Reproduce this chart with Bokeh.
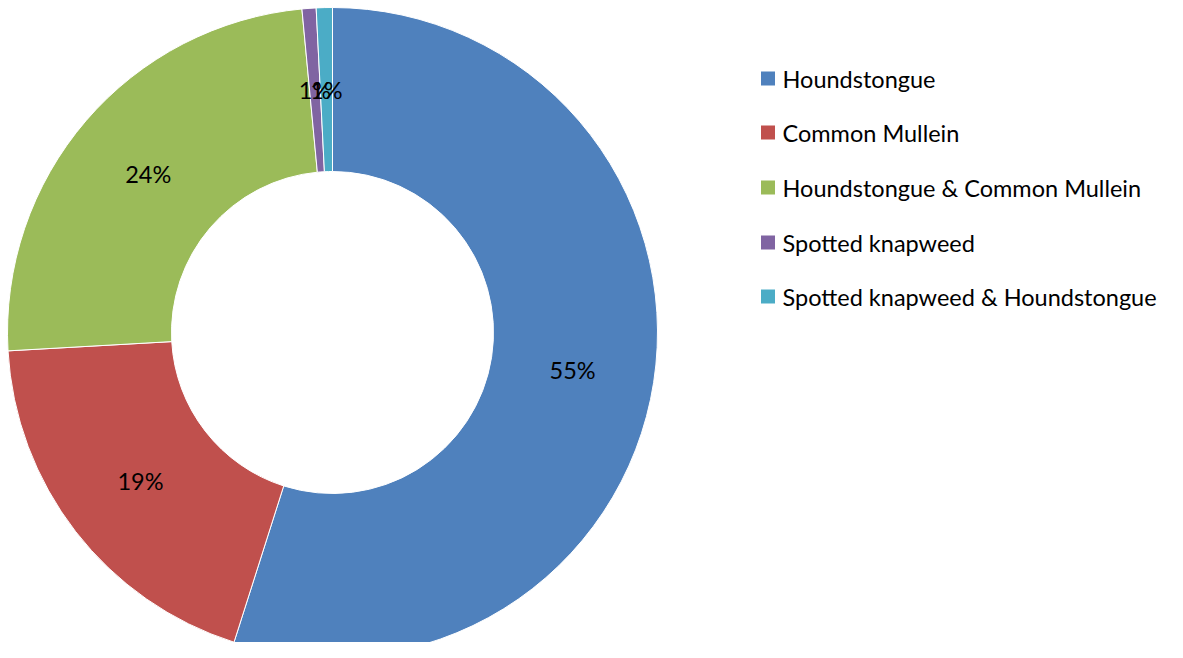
import math
from bokeh.plotting import figure
from bokeh.models import ColumnDataSource, Range1d
from bokeh.core.properties import value
from bokeh.embed import file_html
from bokeh.resources import INLINE

categories = ["Houndstongue", "Common Mullein", "Houndstongue & Common Mullein",
              "Spotted knapweed", "Spotted knapweed & Houndstongue"]
shares = [54.9, 19.2, 24.4, 0.7, 0.8]
colors = ["#4F81BD", "#C0504D", "#9BBB59", "#8064A2", "#4BACC6"]

W, H = 1167, 642
CX, CY = 332, 310
R_OUT, R_IN = 325, 161

total = sum(shares)
starts, ends, lx, ly, labels = [], [], [], [], []
cum = 0.0
for s in shares:
    a0 = math.pi / 2 - 2 * math.pi * (cum + s) / total
    a1 = math.pi / 2 - 2 * math.pi * cum / total
    starts.append(a0)
    ends.append(a1)
    mid = (a0 + a1) / 2
    rm = (R_OUT + R_IN) / 2
    lx.append(CX + rm * math.cos(mid))
    ly.append(CY + rm * math.sin(mid))
    labels.append(f"{round(s / total * 100)}%")
    cum += s

src = ColumnDataSource(dict(start=starts, end=ends, color=colors, lx=lx, ly=ly, label=labels))

p = figure(width=W, height=H, output_backend="svg", toolbar_location=None,
           x_range=Range1d(0, W), y_range=Range1d(0, H), min_border=0)
p.axis.visible = False
p.grid.visible = False
p.outline_line_color = None
p.background_fill_color = "white"

p.annular_wedge(x=CX, y=CY, inner_radius=R_IN, outer_radius=R_OUT,
                start_angle="start", end_angle="end", fill_color="color",
                line_color="white", line_width=1, source=src)

p.text(x="lx", y="ly", text="label", source=src, text_align="center",
       text_baseline="middle", text_font=value("Lato"), text_font_size="23.5px",
       text_color="#000000")

# legend
leg_y = [H - yy for yy in [78, 132, 187, 242, 296]]
leg_src = ColumnDataSource(dict(y=leg_y, name=categories, color=colors))
p.rect(x=767.5, y="y", width=14, height=14, fill_color="color", line_color=None, source=leg_src)
p.text(x=782, y="y", text="name", source=leg_src, text_align="left",
       text_baseline="middle", text_font=value("Lato"), text_font_size="23.5px",
       text_color="#000000")

open("out.html", "w").write(file_html(p, INLINE))
